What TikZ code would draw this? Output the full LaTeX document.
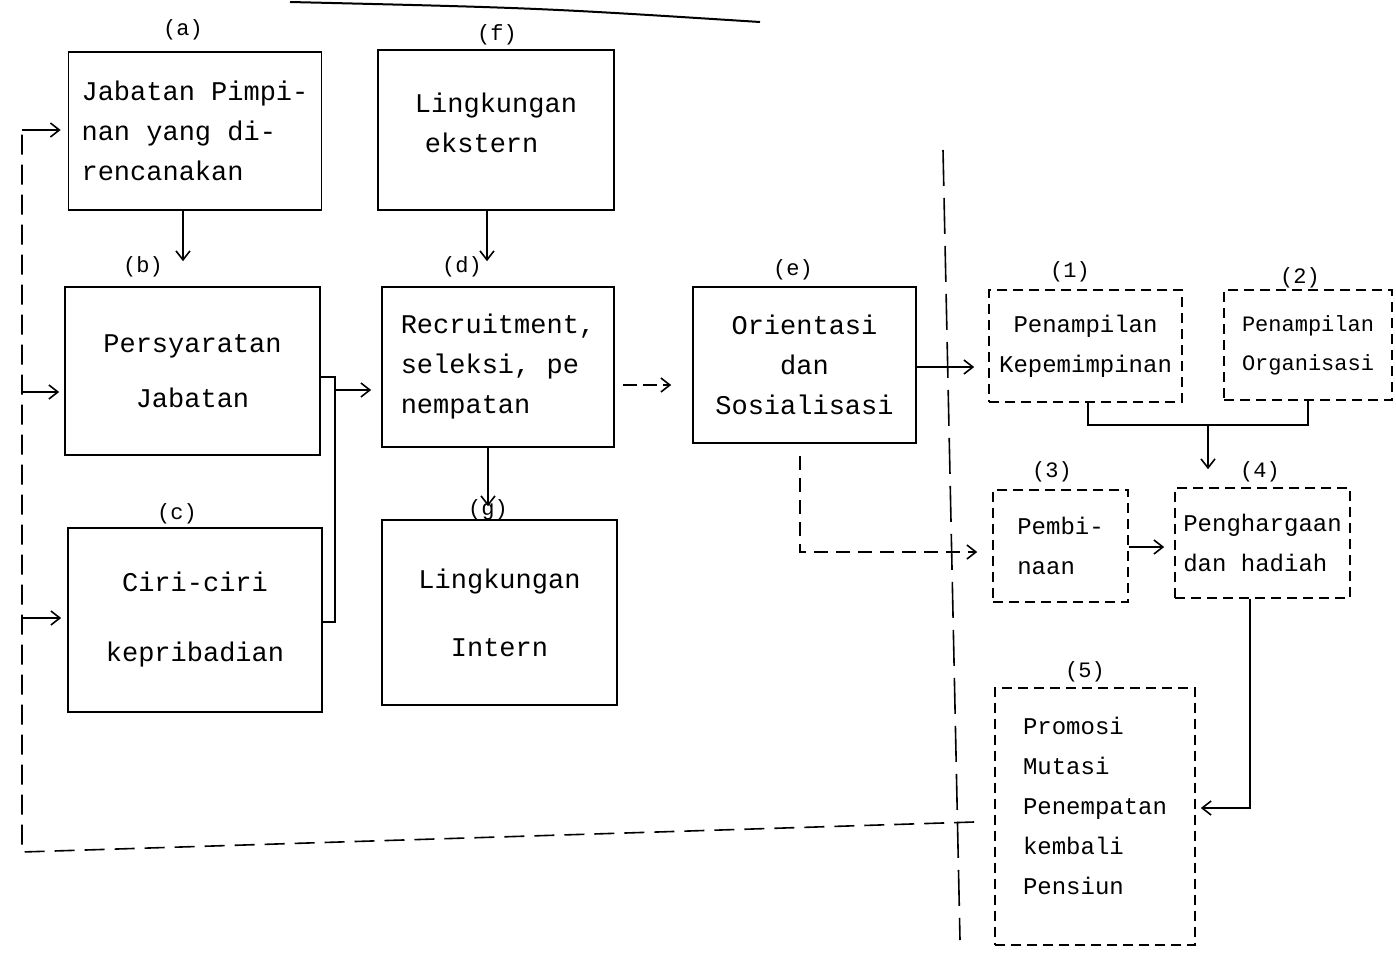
\documentclass[tikz,border=0pt]{standalone}
\usepackage{fontspec}
\newfontfamily\twfont{Liberation Mono}
\newcommand\bigtw{\twfont\fontsize{27}{40}\selectfont}
\newcommand\smalltw{\twfont\fontsize{24}{40}\selectfont}
\newcommand\tinytw{\twfont\fontsize{22}{39}\selectfont}
\newcommand\labtw{\twfont\fontsize{22}{26}\selectfont}
\usetikzlibrary{arrows.meta,calc}
\begin{document}
\begin{tikzpicture}[x=1pt,y=-1pt,line width=1.6pt,
  box/.style={draw,inner sep=1pt,font=\bigtw,align=center},
  dbox/.style={draw,dash pattern=on 10pt off 6pt,inner sep=1pt,font=\smalltw,align=left},
  lab/.style={font=\labtw,inner sep=0pt},
  arr/.style={-{Straight Barb[length=9pt,width=14pt,line width=1.6pt]}},
  fb/.style={dash pattern=on 20pt off 10pt},
  divider/.style={dash pattern=on 36pt off 12pt}]
\useasboundingbox (0,0) rectangle (1396,955);
\fill[white] (0,0) rectangle (1396,955);

% top cut-off line
\draw[line width=2pt] (290,2) .. controls (540,8) .. (760,22);

% left boxes
\node[box,minimum width=253pt,minimum height=158pt,align=left] (a) at (195,131)
  {Jabatan Pimpi-\\nan yang di-\\rencanakan};
\node[box,minimum width=236pt,minimum height=160pt,align=left] (f) at (496,130)
  {Lingkungan\\\hspace*{10pt}ekstern\\[-26pt]};
\node[box,minimum width=255pt,minimum height=168pt] (b) at (192.5,371)
  {Persyaratan\\[15pt]Jabatan};
\node[box,minimum width=232pt,minimum height=160pt,align=left] (d) at (498,367)
  {Recruitment,\\seleksi, pe\\nempatan};
\node[box,minimum width=254pt,minimum height=184pt] (c) at (195,620)
  {Ciri-ciri\\[30pt]kepribadian};
\node[box,minimum width=235pt,minimum height=185pt] (g) at (499.5,612.5)
  {Lingkungan\\[28pt]Intern};
\node[box,minimum width=223pt,minimum height=156pt] (e) at (804.5,365)
  {Orientasi\\dan\\Sosialisasi};

% right dashed boxes
\node[dbox,minimum width=193pt,minimum height=112pt,align=center] (n1) at (1085.5,346)
  {Penampilan\\Kepemimpinan};
\node[dbox,minimum width=168pt,minimum height=110pt,font=\tinytw] (n2) at (1308,345)
  {Penampilan\\Organisasi};
\node[dbox,minimum width=135pt,minimum height=112pt] (n3) at (1060.5,546)
  {Pembi-\\naan};
\node[dbox,minimum width=175pt,minimum height=110pt] (n4) at (1262.5,543)
  {Penghargaan\\dan hadiah};
\node[dbox,minimum width=200pt,minimum height=257pt] (n5) at (1095,816.5)
  {Promosi\\Mutasi\\Penempatan\\kembali\\Pensiun\\[-18pt]};

% labels
\node[lab] (la) at (183,30) {(a)};
\node[lab] (lf) at (497,35) {(f)};
\node[lab] (lb) at (143,267) {(b)};
\node[lab] (ld) at (462,267) {(d)};
\node[lab] (lc) at (177,514) {(c)};
\node[lab] (lg) at (488,510) {(g)};
\node[lab] (le) at (793,270) {(e)};
\node[lab] (l1) at (1070,272) {(1)};
\node[lab] (l2) at (1300,278) {(2)};
\node[lab] (l3) at (1052,472) {(3)};
\node[lab] (l4) at (1260,472) {(4)};
\node[lab] (l5) at (1085,672) {(5)};

% divider
\draw[divider] (943,150) -- (960,940);

% a->b, f->d, d->g
\draw[arr] ($(a.south)+(-12,0)$) -- ($(b.north)+(-9.5,-25)$);
\draw[arr] ($(f.south)+(-9,0)$) -- ($(d.north)+(-11,-25)$);
\draw[arr] ($(d.south)+(-10,0)$) -- ($(g.north)+(-11.5,-13)$);

% b,c bracket -> d
\coordinate (bj) at (335,377);
\coordinate (cj) at (335,622);
\coordinate (bd) at (335,390);
\draw ($(b.east)+(0,6)$) -- (bj) -- (cj) -- ($(c.east)+(0,2)$);
\draw[arr] (bd) -- ($(d.west)+(-10,23)$);

% d -> e
\draw[arr,dash pattern=on 14pt off 6pt] ($(d.east)+(8,18)$) -- ($(e.west)+(-21,20)$);

% e -> 1
\draw[arr] ($(e.east)+(0,2)$) -- ($(n1.west)+(-14,21)$);

% e -> 3 dashed
\draw[arr,dash pattern=on 14pt off 8pt] ($(e.south)+(-4.5,12)$) |- ($(n3.west)+(-15,6)$);

% 1,2 -> 4
\coordinate (j12) at (1208,425);
\draw ($(n1.south)+(2.5,0)$) |- (j12) -| (n2.south);
\draw[arr] (j12) -- ($(n4.north)+(-54.5,-18)$);

% 3 -> 4
\draw[arr] ($(n3.east)+(0,1)$) -- ($(n4.west)+(-10,4)$);

% 4 -> 5
\draw[arr] ($(n4.south)+(-12.5,0)$) |- ($(n5.east)+(5,-8.5)$);

% feedback
\coordinate (fbR) at ($(n5.west)+(-20,5.5)$);
\coordinate (fbL) at (22,852);
\coordinate (fbT) at (22,130);
\draw[fb] (fbR) -- (fbL) -- (fbT);
\coordinate (fbB) at (22,392);
\coordinate (fbC) at (22,618);
\draw[arr] (fbT) -- ($(a.west)+(-7,-1)$);
\draw[arr] (fbB) -- ($(b.west)+(-5,21)$);
\draw[arr] (fbC) -- ($(c.west)+(-6,-2)$);
\end{tikzpicture}
\end{document}
